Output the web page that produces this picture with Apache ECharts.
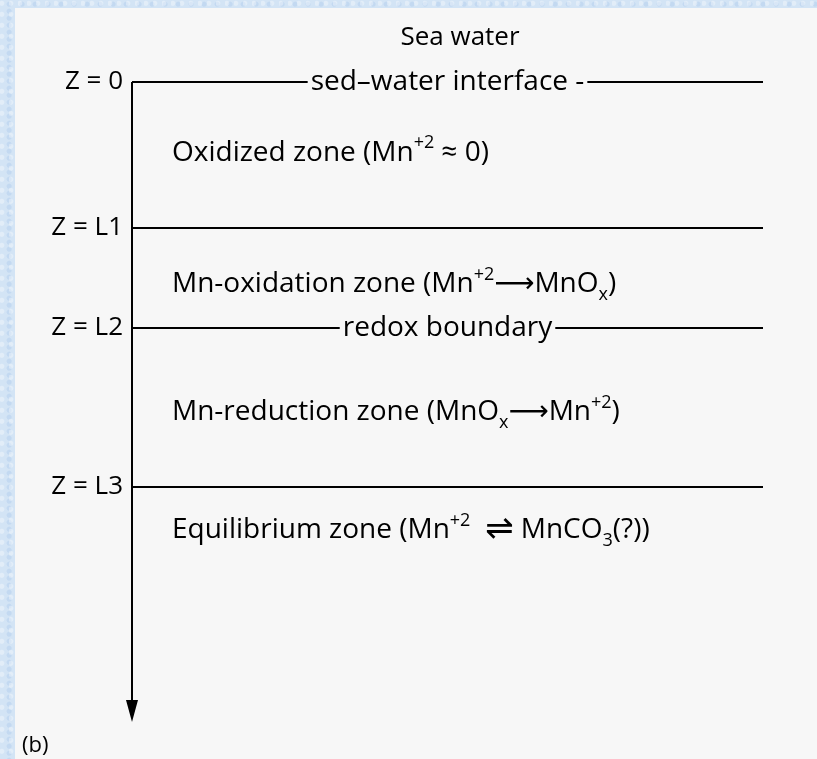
<!DOCTYPE html>
<html>
<head>
<meta charset="utf-8">
<script src="https://cdn.jsdelivr.net/npm/echarts@6/dist/echarts.min.js"></script>
<style>
  html, body { margin: 0; padding: 0; width: 817px; height: 759px; overflow: hidden; }
  body {
    background-color: #d3e4f5;
    background-image:
      radial-gradient(circle at 20% 30%, rgba(255,255,255,0.35) 0 2px, transparent 3px),
      radial-gradient(circle at 70% 60%, rgba(170,200,235,0.4) 0 2px, transparent 3px);
    background-size: 9px 11px, 13px 7px;
  }
  #panel { position: absolute; left: 15px; top: 8px; right: 0; bottom: 0; background: #f7f7f7; }
  #chart { position: absolute; left: 0; top: 0; width: 817px; height: 759px; }
</style>
</head>
<body>
<div id="panel"></div>
<div id="chart"></div>
<script>
// ---- data ----
const boundaryNames  = ['Z = 0', 'Z = L1', 'Z = L2', 'Z = L3'];
const boundaryDepths = [0, 1.0, 1.69, 2.78];
const boundaryTexts  = ['sed–water interface -', '', 'redox boundary', ''];
const zoneDepths     = [0.49, 1.39, 2.27, 3.08];
const zoneTexts = [
  '{b|Oxidized zone (Mn}{sup|+2}{b| ≈ 0)}',
  '{b|Mn-oxidation zone (Mn}{sup|+2}{ar|⟶}{b|MnO}{sub|x}{b|)}',
  '{b|Mn-reduction zone (MnO}{sub|x}{ar|⟶}{b|Mn}{sup|+2}{b|)}',
  '{b|Equilibrium zone (Mn}{sup|+2}{b|  }{eq|⇌}{b| MnCO}{sub|3}{b|(?))}'
];
const depthMax = 4.32;
const topLabel = 'Sea water';
const panelLabel = '(b)';

const FONT = '"Open Sans", "DejaVu Sans", sans-serif';
const INK = '#000000';
const FS = 26;
const ZFS = 28;

const chart = echarts.init(document.getElementById('chart'), null, { renderer: 'canvas' });

const richStyles = {
  b:   { fontSize: ZFS, fontFamily: FONT, color: INK, lineHeight: 38 },
  ar:  { fontSize: ZFS, fontFamily: '"DejaVu Sans", sans-serif', color: INK, lineHeight: 38 },
  eq:  { fontSize: 34, fontFamily: '"DejaVu Sans", sans-serif', color: INK, lineHeight: 38 },
  sup: { fontSize: 18, fontFamily: FONT, color: INK, lineHeight: 18, verticalAlign: 'top' },
  sub: { fontSize: 18, fontFamily: FONT, color: INK, lineHeight: 18, verticalAlign: 'bottom' }
};

const option = {
  backgroundColor: 'transparent',
  animation: false,
  title: [
    { text: topLabel, left: 455, top: 20, textAlign: 'center',
      textStyle: { fontSize: FS, fontWeight: 'normal', fontFamily: FONT, color: INK } },
    { text: panelLabel, left: 17, top: 730,
      textStyle: { fontSize: 22, fontWeight: 'normal', fontFamily: FONT, color: INK } }
  ],
  grid: { left: 132, right: 54, top: 82, bottom: 48, containLabel: false },
  xAxis: { type: 'value', min: 0, max: 100, show: false },
  yAxis: { type: 'value', min: 0, max: depthMax, inverse: true, show: false },
  series: [
    {
      name: 'boundaries',
      type: 'scatter',
      symbolSize: 0,
      clip: false,
      itemStyle: { opacity: 1 },
      data: boundaryDepths.map((d, i) => ({ value: [0, d], name: boundaryNames[i] })),
      label: {
        show: true, position: 'left', distance: 9, opacity: 1,
        formatter: p => p.name,
        fontSize: FS, fontFamily: FONT, color: INK
      },
      markLine: {
        silent: true,
        symbol: ['none', 'none'],
        lineStyle: { color: INK, width: 2, type: 'solid', opacity: 1 },
        label: { show: false },
        data: boundaryDepths.map((d, i) => ({
          yAxis: d,
          label: boundaryTexts[i] ? {
            show: true, position: 'middle', distance: 0, verticalAlign: 'middle',
            formatter: boundaryTexts[i],
            fontSize: ZFS, fontFamily: FONT, color: INK,
            backgroundColor: '#f7f7f7', padding: [0, 3, 0, 3]
          } : { show: false }
        }))
      }
    },
    {
      name: 'depth axis',
      type: 'line',
      data: [],
      clip: false,
      markLine: {
        silent: true,
        symbol: ['none', 'triangle'],
        symbolSize: [12, 22],
        lineStyle: { color: INK, width: 2, type: 'solid', opacity: 1 },
        itemStyle: { color: INK },
        label: { show: false },
        data: [[{ coord: [0, 0] }, { coord: [0, depthMax] }]]
      }
    },
    {
      name: 'zones',
      type: 'scatter',
      symbolSize: 0,
      clip: false,
      itemStyle: { opacity: 1 },
      data: zoneDepths.map((d, i) => ({ value: [0, d], name: zoneTexts[i] })),
      label: {
        show: true, position: 'right', distance: 40, opacity: 1,
        formatter: p => p.name,
        rich: richStyles
      }
    }
  ]
};
chart.setOption(option);
</script>
</body>
</html>
